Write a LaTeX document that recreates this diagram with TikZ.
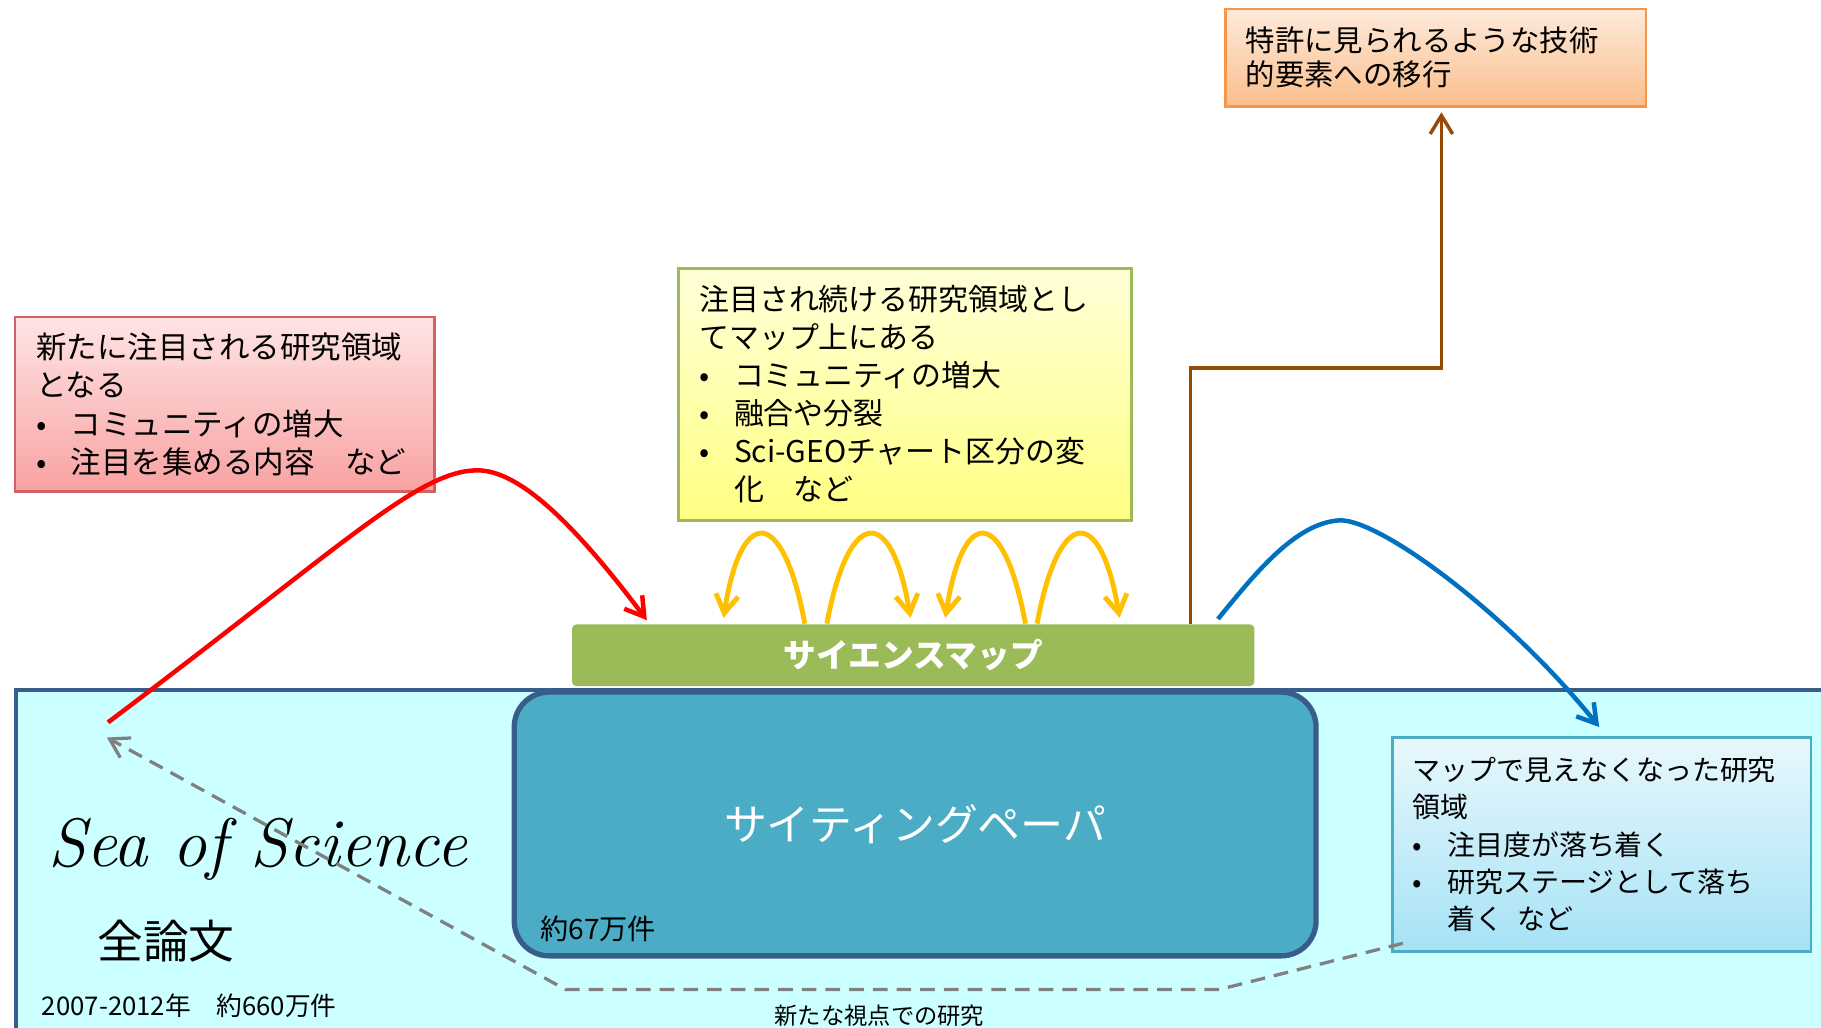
\documentclass[tikz,border=0pt]{standalone}
\usepackage{fontspec}
\newfontfamily\jp{Noto Sans CJK JP}
\usetikzlibrary{arrows.meta,calc}

\definecolor{seacol}{HTML}{CCFFFF}
\definecolor{seaedge}{HTML}{385D8A}
\definecolor{citecol}{HTML}{4BACC6}
\definecolor{mapcol}{HTML}{9BBB59}
\definecolor{newtop}{HTML}{FFE4E4}
\definecolor{newbot}{HTML}{F8A2A2}
\definecolor{newedge}{HTML}{D06262}
\definecolor{staytop}{HTML}{FFFFD8}
\definecolor{staybot}{HTML}{FFFF82}
\definecolor{pattop}{HTML}{FDEADB}
\definecolor{patbot}{HTML}{FBBE8C}
\definecolor{patedge}{HTML}{F79646}
\definecolor{gonetop}{HTML}{E8F8FD}
\definecolor{gonebot}{HTML}{A6E2F5}
\definecolor{redline}{HTML}{FF0000}
\definecolor{blueline}{HTML}{0070C0}
\definecolor{brownline}{HTML}{984807}
\definecolor{arcol}{HTML}{FFC000}
\definecolor{dashcol}{HTML}{808080}

\newcommand\jpsize[2]{\jp\fontsize{#1}{#2}\selectfont}
\newcommand\itm{\makebox[0.3cm][l]{•}}
\newcommand\itmskip{\hspace*{0.3cm}}

\begin{document}
\begin{tikzpicture}[x=0.01cm,y=-0.01cm,
  txtbox/.style={draw,rectangle,anchor=north west,align=left,inner xsep=0.18cm,inner ysep=0pt,line width=0.6pt},
  tip/.style={-{Straight Barb[length=4.5pt,width=5.5pt]}},
  flow/.style={tip,line width=1.1pt},
  hop/.style={tip,line width=1.2pt,draw=arcol}]
\path[use as bounding box,fill=white] (0,0) rectangle (1568,885);
% sea of all papers
\node[draw=seaedge,fill=seacol,line width=1pt,anchor=north west,minimum width=16cm,minimum height=3.5cm] (sea) at (12,592) {};
\node[fill=mapcol,rounded corners=1pt,anchor=north west,minimum width=5.87cm,minimum height=0.53cm,text=white,font=\jpsize{8}{9}\bfseries] (map) at (492,537) {サイエンスマップ};
\node[draw=seaedge,fill=citecol,line width=1.3pt,rounded corners=0.3cm,minimum width=6.9cm,minimum height=2.27cm,text=white,font=\jpsize{10.5}{12}] (cite) at (788,709.5) {サイティングペーパ};
\node[font=\jpsize{6.9}{8}] (citecount) at (515,800) {約67万件};
\node[anchor=base,font=\fontsize{16.8}{20}\selectfont\itshape] (seaname) at (222,746) {Sea of Science};
\node[font=\jpsize{11.2}{13}] (allpapers) at (143,810) {全論文};
\node[font=\jpsize{6.3}{8}] (allcount) at (163,866) {2007-2012年　約660万件};
% text boxes
\node[txtbox,draw=newedge,top color=newtop,bottom color=newbot,minimum width=3.61cm,minimum height=1.5cm,text width=3.25cm,font=\jpsize{7.47}{9.4}] (newarea) at (12,272)
  {新たに注目される研究領域\\となる\\\itm コミュニティの増大\\\itm 注目を集める内容　など};
\node[txtbox,draw=mapcol,top color=staytop,bottom color=staybot,minimum width=3.9cm,minimum height=2.17cm,text width=3.54cm,font=\jpsize{7.33}{9.3}] (stay) at (583,230)
  {注目され続ける研究領域とし\\てマップ上にある\\\itm コミュニティの増大\\\itm 融合や分裂\\\itm Sci-GEOチャート区分の変\\\itmskip 化　など};
\node[txtbox,draw=patedge,top color=pattop,bottom color=patbot,inner xsep=0.175cm,minimum width=3.62cm,minimum height=0.84cm,text width=3.27cm,font=\jpsize{7.2}{8.4}] (patent) at (1054,6.5)
  {特許に見られるような技術\\的要素への移行};
\node[txtbox,draw=citecol,top color=gonetop,bottom color=gonebot,inner xsep=0.17cm,minimum width=3.6cm,minimum height=1.84cm,text width=3.26cm,font=\jpsize{6.85}{9.1}] (vanish) at (1198,634)
  {マップで見えなくなった研究\\領域\\\itm 注目度が落ち着く\\\itm 研究ステージとして落ち\\\itmskip 着く\hspace{0.5em}など};
% connectors
\coordinate (redstart) at (93,622);
\coordinate (grayend) at (92,635);
\draw[flow,draw=redline] (redstart) .. controls (294,471) and (360,405) .. (411,405) .. controls (445,405) and (490,445) .. ($(map.north west)+(65,-3)$);
\draw[flow,draw=blueline] ($(map.north east)+(-32,-4)$) .. controls (1080,495) and (1115,450) .. (1154,448) .. controls (1190,448) and (1300,530) .. ($(vanish.north west)+(179,-8)$);
\draw[tip,line width=0.85pt,draw=brownline] ($(map.north west)+(533,0)$) -- ++(0,-220) -| ($(patent.south)+(5,4)$);
\draw[tip,line width=0.8pt,draw=dashcol,dash pattern=on 3.6pt off 2.2pt] ($(vanish.south west)+(10,-8)$) -- (1050,852) -- (487,852) node[pos=0.52,below,text=black,font=\jpsize{5.7}{7}] (newview) {新たな視点での研究} -- (grayend);
\draw[hop] ($(map.north west)+(201,0)$) .. controls +(-19,-102) and +(15,-97) .. ($(map.north west)+(131,-5)$);
\draw[hop] ($(map.north west)+(220,0)$) .. controls +(19,-102) and +(-16,-97) .. ($(map.north west)+(292,-5)$);
\draw[hop] ($(map.north west)+(391,0)$) .. controls +(-19,-102) and +(15,-97) .. ($(map.north west)+(322,-5)$);
\draw[hop] ($(map.north west)+(401,0)$) .. controls +(19,-102) and +(-16,-97) .. ($(map.north west)+(472,-5)$);
\end{tikzpicture}
\end{document}
